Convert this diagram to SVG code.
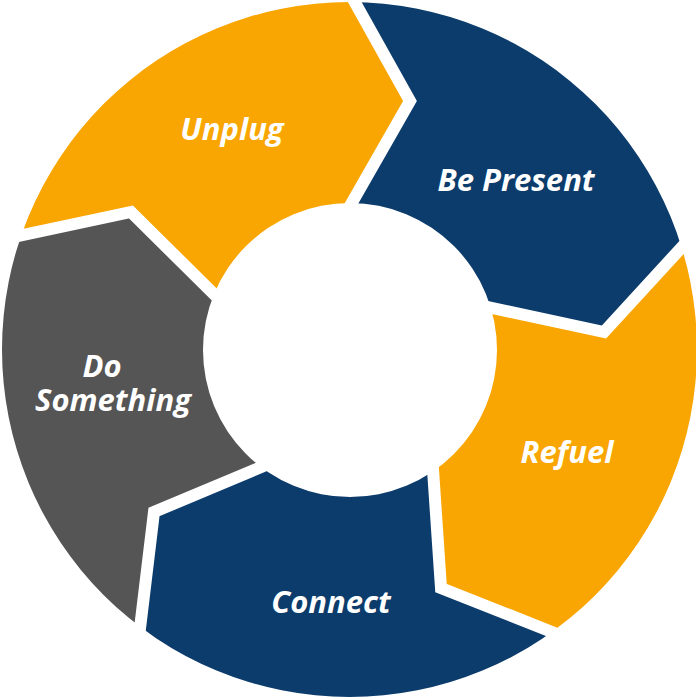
<svg xmlns="http://www.w3.org/2000/svg" width="696" height="699" viewBox="0 0 696 699">
  <defs>
    <!-- ring: outer disc minus the central hole -->
    <clipPath id="ring">
      <path clip-rule="evenodd" d="M349.5,2 A347.5,347.5 0 1,1 349.5,697 A347.5,347.5 0 1,1 349.5,2 Z M350,203 A147,147 0 1,0 350,497 A147,147 0 1,0 350,203 Z"/>
    </clipPath>
    <style>
      .orange { fill: #F9A602; }
      .navy { fill: #0C3C6C; }
      .grey { fill: #555555; }
      .gap { fill: none; stroke: #FFFFFF; stroke-width: 12; stroke-linejoin: miter; stroke-miterlimit: 10; }
      .label { font-family: "Open Sans", "Liberation Sans", sans-serif; font-weight: bold; font-style: italic; font-size: 31px; fill: #FFFFFF; text-anchor: middle; }
    </style>
  </defs>

  <rect width="696" height="699" fill="#FFFFFF"/>

  <g clip-path="url(#ring)">
    <g id="unplug">
      <polygon class="orange" points="348,-10 -20,-20 -20,240 0,240 131,212 235,315 350,350 330,241 410,101"/>
      <text class="label" x="232" y="140">Unplug</text>
    </g>
    <g id="be-present">
      <polygon class="navy" points="348,-10 410,101 330,241 350,350 460,301 604,332 693,235 720,235 720,-20 348,-20"/>
      <text class="label" x="516" y="191">Be Present</text>
    </g>
    <g id="refuel">
      <polygon class="orange" points="693,235 604,332 460,301 350,350 431,440 441,588 562,636 580,720 720,720 720,235"/>
      <text class="label" x="567" y="463">Refuel</text>
    </g>
    <g id="connect">
      <polygon class="navy" points="562,636 441,588 431,440 350,350 290,455 154,512 138,645 120,720 580,720"/>
      <text class="label" x="331" y="613">Connect</text>
    </g>
    <g id="do-something">
      <polygon class="grey" points="138,645 154,512 290,455 350,350 235,315 131,212 0,240 -20,240 -20,720 120,720"/>
      <text class="label" x="102" y="377">Do</text>
      <text class="label" x="113" y="411">Something</text>
    </g>
  </g>

  <!-- white separators between the arrow segments -->
  <g id="connectors">
    <polyline class="gap" points="348,-10 410,101 330,241"/>
    <polyline class="gap" points="693,235 604,332 460,301"/>
    <polyline class="gap" points="562,636 441,588 431,440"/>
    <polyline class="gap" points="138,645 154,512 290,455"/>
    <polyline class="gap" points="0,240 131,212 235,315"/>
  </g>
</svg>
